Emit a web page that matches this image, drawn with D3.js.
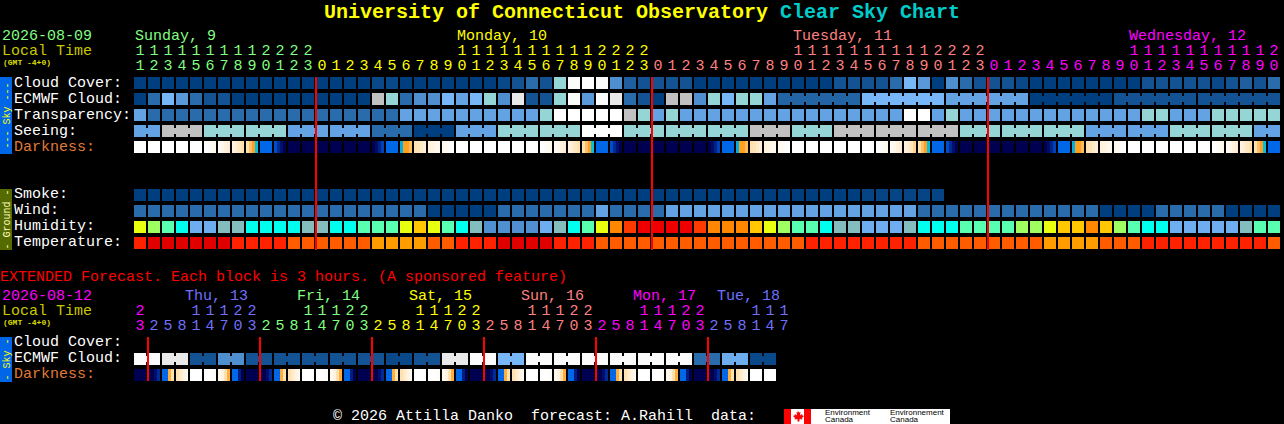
<!DOCTYPE html>
<html><head><meta charset="utf-8">
<script src="https://cdn.jsdelivr.net/npm/d3@7/dist/d3.min.js"></script>
<style>html,body{margin:0;padding:0;background:#000;overflow:hidden}svg{display:block}
text{font-family:"Liberation Mono",monospace;white-space:pre}</style></head><body>
<script>
// ---------- data (levels) ----------
const hoursMain = [11,12,13,14,15,16,17,18,19,20,21,22,23,
 0,1,2,3,4,5,6,7,8,9,10,11,12,13,14,15,16,17,18,19,20,21,22,23,
 0,1,2,3,4,5,6,7,8,9,10,11,12,13,14,15,16,17,18,19,20,21,22,23,
 0,1,2,3,4,5,6,7,8,9,10,11,12,13,14,15,16,17,18,19,20];
const daysMain = ["Sunday, 9","Monday, 10","Tuesday, 11","Wednesday, 12"];
const hoursExt = [23,
 2,5,8,11,14,17,20,23, 2,5,8,11,14,17,20,23, 2,5,8,11,14,17,20,23,
 2,5,8,11,14,17,20,23, 2,5,8,11,14,17,20,23, 2,5,8,11,14,17];
const daysExt = ["Thu, 13","Fri, 14","Sat, 15","Sun, 16","Mon, 17","Tue, 18"];

const cloudCover = [0,0,0,0,0,0,0,0,0,0,0,0,0,0,0,0,0,.5,.5,0,0,0,0,0,0,0,.5,1,2,1,6,9,10,9,3,1.5,1,1,1,1,
 0,0,0,0,0,0,0,0,0,0,1,1,1,1,2,5,3.5,0,3,2,1,1,1,.5,0,0,0,0,0,0,0,0,1,1,1,1,1,.5,1,1.5,1,2];
const ecmwfCloud = [0,2,5,3.5,2,1,1,0,0,0,0,0,0,0,0,0,0,7,6,2,3,3,5,4,5,6,3,8,1,1,6,9,3.5,9,8,2,1,0,7,7,3,6,5,6,6,4,
 1.7,1.7,1.7,1.7,1.7,1.7,5,5,5,5,5,5,4,4,4,4,4,4,0,0,0,0,0,0,1,1,1,1,1,1,1,1,1,1,1,1];
const transparency = [4,2,2,2,2,2,2,2,2,2,2,2,2,2,2,2,2,2,2,4,4,4,4,4,4,4,4,4,4,6,10,10,10,10,10,7,6,4,6,
 4,4,4,4,4,4,4,4,4,4,4,4,4,4,4,4,10,10,4,6,4,4,4,4,4,4,4,4,4,4,4,4,4,6,6,4,4,4,6,6,6,6,6];
const seeing = [4,4,7,7,7,6,6,6,6,6,6,4,4,4,4,4,4,2,2,2,0,0,0,4,4,4,6,6,6,6,6,6,10,10,10,6,6,6,6,6,6,6,6,6,
 7,7,7,6,6,6,7,7,7,7,7,7,7,7,7,6,6,6,6,6,6,6,6,6,4,4,4,4,4,4,6,6,6,6,6,6,4,4];
const smoke = [0,0,0,0,0,0,0,0,0,0,0,0,0,0,0,0,0,0,0,0,0,0,0,0,0,0,0,0,0,0,0,0,0,0,0,0,0,0,0,0,0,0,0,0,0,0,0,0,0,0,0,0,
 .3,.3,.3,.3,.3,.3];
const wind = [2,2,2,2,2,2,2,2,2,2,2,2,2,2,2,2,2,2,2,2,2,0,0,0,0,0,2,2,2,2,2,2,2,4,2,2,2,2,
 4,4,4,4,4,4,4,4,4,4,4,4,4,4,4,4,4,4,2,2,2,2,2,2,2,2,2,2,2,2,2,0,0,0,0,2,2,2,2,2,0,0,0,0];
const humidity = [6,5,4,3,1,1,2,2,3,3,3,3,2,2,3,3,4,4,4,6,7,6,4,3,2,0,0,0,0,1,2,3,4,6,8,9,10,10,10,10,9,8,8,8,7,6,5,4,4,3,2,2,
 1,1,1,2,3,3,3,4,4,4,4,5,5,6,7,7,8,7,5,4,3,3,1,1,1,1,1,2,4,4];
const temperature = [1,0,0,0,0,0,0,1,1,1,1,2,2,2,2,2,2,3,3,3,3,2,2,1,1,1,0,0,0,0,1,1,1,
 2,2,2,2,2,2,2,2,2,2,2,2,2,2,2,1,1,1,1,1,1,1,1,2,2,2,2,2,2,2,2,2,3,3,3,3,2,2,2,1,1,1,1,1,1,1,1,1,2];
const darkness = [
 [0,0,0,0],[0,0,0,0],[0,0,0,0],[0,0,0,0],[0,0,0,0],[0,.2,.4,.6],[.4,.7,1,1.3],[1,1.3,1.7,2],[2,2.5,3,4],[5,5,5,5],
 [5.4,6,6.6,7],[7,7,7,7],[7,7,7,7],[7,7,7,7],[7,7,7,7],[7,7,7,7],[7,7,7,7],[7,6.7,6.2,5.6],[5,5,5,5],[4.2,3,3,2.6],
 [2,1.8,1.5,1.2],[1,.9,.7,.6],[.5,.4,.2,0],[0,0,0,0],[0,0,0,0],[0,0,0,0],[0,0,0,0],[0,0,0,0],[0,0,0,0],[0,.2,.4,.6],
 [.4,.7,1,1.3],[1,1.3,1.7,2],[2,2.5,3,4],[5,5,5,5],[5.4,6,6.6,7],[7,7,7,7],[7,7,7,7],[7,7,7,7],[7,7,7,7],[7,7,7,7],
 [7,7,7,7],[7,6.7,6.2,5.6],[5,5,5,5],[4.2,3,3,2.6],[2,1.8,1.5,1.2],[1,.9,.7,.6],[.5,.4,.2,0],[0,0,0,0],[0,0,0,0],[0,0,0,0],
 [0,0,0,0],[0,0,0,0],[0,0,0,0],[0,.2,.4,.6],[.4,.7,1,1.3],[1,1.3,1.7,2.2],[2,2.5,3,4],[5,5,5,5],[5.4,6,6.6,7],[7,7,7,7],
 [7,7,7,7],[7,7,7,7],[7,7,7,7],[7,7,7,7],[7,7,7,7],[7,6.7,6.2,5.6],[5,5,5,5],[4.2,3,3,2.6],[2,1.8,1.5,1.2],[1,.9,.7,.6],
 [.5,.4,.2,0],[0,0,0,0],[0,0,0,0],[0,0,0,0],[0,0,0,0],[0,0,0,0],[0,0,0,0],[0,.2,.4,.6],[.4,.7,1,1.3],[1,1.3,1.7,2],
 [2,2.5,3,4],[5,5,5,5]];
const extEcmwf = [9,9,8,8,1,1,3,3,1,1,1,1,1,1,1,1,1,1,.5,.5,1,1,8,8,9,9,5,5,9,9,9,9,9,9,9,9,9,9,9,9,2,2,4.5,4.5,.5,.5];
const extDarkness = [
 [7,7,7,7],[7,7,6.7,6],[5,5,2.8,2],[2,1.5,1,.6],[0,0,0,0],[0,0,.1,.3],[.6,1,2,2.8],[5,5,6.3,7],
 [7,7,7,7],[7,7,6.7,6],[5,5,2.8,2],[2,1.5,1,.6],[0,0,0,0],[0,0,.1,.3],[.6,1,2,2.8],[5,5,6.3,7],
 [7,7,7,7],[7,7,6.7,6],[5,5,2.8,2],[2,1.5,1,.6],[0,0,0,0],[0,0,.1,.3],[.6,1,2,2.8],[5,5,6.3,7],
 [7,7,7,7],[7,7,6.7,6],[5,5,2.8,2],[2,1.5,1,.6],[0,0,0,0],[0,0,.1,.3],[.6,1,2,2.8],[5,5,6.3,7],
 [7,7,7,7],[7,7,6.7,6],[5,5,2.8,2],[2,1.5,1,.6],[0,0,0,0],[0,0,.1,.3],[.6,1,2,2.8],[5,5,6.3,7],
 [7,7,7,7],[7,7,6.7,6],[5,5,2.8,2],[2,1.5,1,.6],[0,0,0,0],[0,0,0,0]];

// ---------- colour scales ----------
const skyColor = d3.scaleLinear().domain(d3.range(11))
 .range(["#003f7f","#135393","#2a6bab","#4f8fcf","#63a3e3","#77b7f7","#95d5d5","#c1c1c1","#e9e9e9","#fbfbfb","#ffffff"]);
const humidColor = d3.scaleOrdinal().domain(d3.range(11))
 .range(["#5090d0","#6eaef0","#84bdbd","#00ffee","#58ffb0","#a0ff60","#e8ff10","#ffc800","#ff8800","#ff3a00","#ee0000"]);
const tempColor = d3.scaleOrdinal().domain([0,1,2,3]).range(["#e00000","#ff2200","#ff5c00","#ff9d00"]);
const darkColor = d3.scaleLinear().domain([0,1,2,3,4,5,6,7])
 .range(["#ffffff","#fff3e0","#ffe0b0","#ffa020","#00c0e0","#0068e8","#002a98","#000050"]);

const GREEN="#80ff80",YEL="#ffff00",PINK="#ff8080",MAG="#ff00ff",BLUE="#7070ff";
const dayColorsMain=[GREEN,YEL,PINK,MAG], dayColorsExt=[BLUE,GREEN,YEL,PINK,MAG,BLUE];

// ---------- layout ----------
const svg=d3.select("body").append("svg").attr("width",1284).attr("height",424);
svg.append("rect").attr("width",1284).attr("height",424).attr("fill","#000");
const x=d3.scaleLinear().domain([0,1]).range([134,148]);
const cellW=12,cellH=12;
const txt=(t,px,py,c,size=15,o={})=>{const e=svg.append("text").attr("x",px).attr("y",py).attr("fill",c).attr("font-size",size).text(t);
 if(o.bold)e.attr("font-weight","bold"); if(o.anchor)e.attr("text-anchor",o.anchor); if(o.tf)e.attr("transform",o.tf); if(o.family)e.style("font-family",o.family); return e;};

function row(values,y,color,link){
 const g=svg.append("g");
 g.selectAll("rect.c").data(values).join("rect").attr("x",(d,i)=>x(i)).attr("y",y).attr("width",cellW).attr("height",cellH).attr("fill",d=>color(d));
 if(link){
  const pairs=values.map((d,i)=>i).filter(i=>i<values.length-1&&i>=link.start&&((i-link.start)%link.size)<link.size-1);
  g.selectAll("rect.l").data(pairs).join("rect").attr("x",i=>x(i)+cellW).attr("y",y+3).attr("width",2).attr("height",6).attr("fill",i=>color(values[i]));
 }
}
function gradientRow(values,y){
 const g=svg.append("g"), sub=cellW/4;
 values.forEach((s,i)=>g.selectAll(null).data(s).join("rect").attr("x",(d,j)=>x(i)+j*sub).attr("y",y).attr("width",sub).attr("height",cellH).attr("fill",d=>darkColor(d)).attr("shape-rendering","crispEdges"));
}
function hourLabels(hours,colorOf,yTens,yOnes){
 hours.forEach((h,i)=>{const cx=x(i)+6,c=colorOf(i);
  if(h>=10)txt(Math.floor(h/10),cx,yTens,c,15,{anchor:"middle"});
  txt(h%10,cx,yOnes,c,15,{anchor:"middle"});});
}
function redLines(xs,y0,y1){svg.append("g").selectAll("rect").data(xs).join("rect").attr("x",d=>x(d)-1).attr("y",y0).attr("width",2).attr("height",y1-y0).attr("fill","#ff0000");}
function sidebar(y0,y1,bg,label,fg){
 svg.append("rect").attr("x",0).attr("y",y0).attr("width",12).attr("height",y1-y0).attr("fill",bg);
 const cy=(y0+y1)/2;
 txt(label,0,0,fg,10,{anchor:"middle",tf:`translate(9.5,${cy}) rotate(-90)`});
}

// ---------- title ----------
txt("University of Connecticut Observatory",324,18,"#ffff00",20,{bold:true});
txt("Clear Sky Chart",780,18,"#00cccc",20,{bold:true});

// ---------- main header ----------
txt("2026-08-09",2,40,GREEN); txt("Local Time",2,55,"#c8c800");
txt("(GMT -4+0)",3,65,"#dddd00",8,{bold:true});
[135,457,793,1129].forEach((px,i)=>txt(daysMain[i],px,40,dayColorsMain[i]));
hourLabels(hoursMain,i=>dayColorsMain[i<13?0:i<37?1:i<61?2:3],55,70);

// ---------- labels ----------
[["Cloud Cover:",87],["ECMWF Cloud:",103],["Transparency:",119],["Seeing:",135]].forEach(d=>txt(d[0],14,d[1],"#fff"));
txt("Darkness:",14,151,"#e07a35");
[["Smoke:",198],["Wind:",214],["Humidity:",230],["Temperature:",246]].forEach(d=>txt(d[0],14,d[1],"#fff"));

// ---------- rows ----------
row(cloudCover,77,skyColor);
row(ecmwfCloud,93,skyColor,{start:46,size:6});
row(transparency,109,skyColor);
row(seeing,125,skyColor,{start:-1,size:3});
gradientRow(darkness,141);
row(smoke,189,skyColor);
row(wind,205,skyColor);
row(humidity,221,humidColor);
row(temperature,237,tempColor);
redLines([13,37,61],77,250);
sidebar(77,154,"#0066e8","--- Sky ---","#ffff00");
sidebar(189,250,"#556b00","- Ground -","#ffffc0");

// ---------- extended ----------
txt("EXTENDED Forecast. Each block is 3 hours. (A sponsored feature)",0,281,"#ff0000");
txt("2026-08-12",2,300,MAG); txt("Local Time",2,315,"#c8c800");
txt("(GMT -4+0)",3,325,"#dddd00",8,{bold:true});
[185,297,409,521,633,717].forEach((px,i)=>txt(daysExt[i],px,300,dayColorsExt[i]));
hourLabels(hoursExt,i=>i===0?MAG:dayColorsExt[Math.min(5,Math.floor((i-1)/8))],315,330);
txt("Cloud Cover:",14,346,"#fff"); txt("ECMWF Cloud:",14,362,"#fff"); txt("Darkness:",14,378,"#e07a35");
row(extEcmwf,353,skyColor,{start:0,size:2});
gradientRow(extDarkness,369);
redLines([1,9,17,25,33,41],337,381);
sidebar(337,382,"#0066e8","- Sky -","#ffff00");

// ---------- footer ----------
txt("\u00a9 2026 Attilla Danko  forecast: A.Rahill  data:",333,420,"#fff");
svg.append("rect").attr("x",784).attr("y",409).attr("width",166).attr("height",15).attr("fill","#fff");
svg.append("rect").attr("x",784).attr("y",409).attr("width",7).attr("height",15).attr("fill","#ff0000");
svg.append("rect").attr("x",804).attr("y",409).attr("width",7).attr("height",15).attr("fill","#ff0000");
svg.append("path").attr("fill","#ff0000").attr("d","M797.5 410l1.5 2.5 1.5-.5-.5 3.5 2-1.5.5 1.500 1.500.5-2 2 .5 1.500-3-.5v2.500h-2v-2.500l-3 .5.5-1.500-2-2 1.500-.5.5-1.500 2 1.500-.5-3.500 1.500.5z");
const logoFont='"Liberation Sans",sans-serif';
[["Environment",825],["Environnement",890]].forEach(d=>txt(d[0],d[1],414.500,"#000",8,{family:logoFont}));
[["Canada",825],["Canada",890]].forEach(d=>txt(d[0],d[1],422,"#000",8,{family:logoFont}));
</script></body></html>
